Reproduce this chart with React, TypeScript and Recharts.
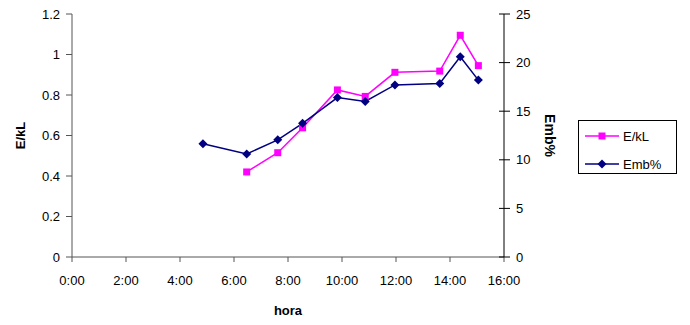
import { LineChart, Line, XAxis, YAxis } from 'recharts';

// hours as decimal (e.g. 6.5 = 6:30)
const horas = [4.85, 6.47, 7.62, 8.54, 9.83, 10.86, 11.96, 13.62, 14.38, 15.05];
const ekl = [null, 0.42, 0.515, 0.638, 0.825, 0.793, 0.912, 0.918, 1.095, 0.945];
const emb = [11.65, 10.6, 12.05, 13.75, 16.4, 16.0, 17.7, 17.85, 20.6, 18.2];

const xTicks = [0, 2, 4, 6, 8, 10, 12, 14, 16];
const leftTicks = [0, 0.2, 0.4, 0.6, 0.8, 1, 1.2];
const rightTicks = [0, 5, 10, 15, 20, 25];

const data = horas.map((h, i) => ({ hora: h, ekl: ekl[i], emb: emb[i] }));

const FONT = '"Liberation Sans", Arial, sans-serif';
const PINK = '#FF00FF';
const NAVY = '#000080';

function fmtHora(v: number) {
  return `${Math.floor(v)}:00`;
}

function SquareDot(props: any) {
  const { cx, cy, key } = props;
  if (cx == null || cy == null) return null;
  return <rect key={key} x={cx - 3.5} y={cy - 3.5} width={7} height={7} fill={PINK} />;
}

function DiamondDot(props: any) {
  const { cx, cy, key } = props;
  if (cx == null || cy == null) return null;
  return (
    <polygon
      key={key}
      points={`${cx},${cy - 4.5} ${cx + 4.5},${cy} ${cx},${cy + 4.5} ${cx - 4.5},${cy}`}
      fill={NAVY}
    />
  );
}

// right axis ticks cross the axis line
function RightTick(props: any) {
  const { x, y, payload } = props;
  const ax = x - 12;
  return (
    <g>
      <line x1={ax - 5} x2={ax + 6} y1={y} y2={y} stroke="#000" />
      <text x={x} y={y} dy="0.35em" textAnchor="start" fontSize={13} fontFamily={FONT} fill="#000">
        {payload.value}
      </text>
    </g>
  );
}

function axisTitle(value: string, dx: number, angle: number, size: number) {
  return (props: any) => {
    const vb = props.viewBox;
    const x = vb.x + dx;
    const y = vb.y + vb.height / 2;
    return (
      <text
        x={x}
        y={y}
        dy="0.35em"
        textAnchor="middle"
        transform={`rotate(${angle}, ${x}, ${y})`}
        fontSize={size}
        fontWeight="bold"
        fontFamily={FONT}
        fill="#000"
      >
        {value}
      </text>
    );
  };
}

function LegendBox() {
  const rows = [
    { name: 'E/kL', color: PINK, square: true },
    { name: 'Emb%', color: NAVY, square: false },
  ];
  return (
    <div
      style={{
        position: 'absolute',
        left: 578,
        top: 120,
        border: '1px solid #000',
        width: 99,
        height: 54,
        boxSizing: 'border-box',
        fontFamily: FONT,
        fontSize: 13,
        background: '#fff',
      }}
    >
      {rows.map((r, i) => (
        <div key={r.name} style={{ position: 'absolute', left: 6, top: 8 + i * 28, height: 14, display: 'flex', alignItems: 'center' }}>
          <svg width={34} height={14}>
            <line x1={0} x2={34} y1={7} y2={7} stroke={r.color} strokeWidth={1.5} />
            {r.square ? (
              <rect x={13.5} y={3.5} width={7} height={7} fill={r.color} />
            ) : (
              <polygon points="17,2.5 21.5,7 17,11.5 12.5,7" fill={r.color} />
            )}
          </svg>
          <span style={{ marginLeft: 4, color: '#000' }}>{r.name}</span>
        </div>
      ))}
    </div>
  );
}

export default function App() {
  return (
    <div style={{ position: 'absolute', left: 0, top: 0, width: 690, height: 325, background: '#fff' }}>
      <LineChart width={690} height={325} data={data} margin={{ top: 14, left: 0, right: 126, bottom: 38 }}>
        <XAxis
          dataKey="hora"
          type="number"
          domain={[0, 16]}
          ticks={xTicks}
          tickFormatter={fmtHora}
          height={30}
          tickSize={5}
          tickMargin={14}
          stroke="#555"
          tick={{ fill: '#000', fontSize: 13, fontFamily: FONT }}
          label={{ value: 'hora', position: 'insideBottom', offset: -38, dy: -10, fill: '#000', fontSize: 13, fontWeight: 'bold', fontFamily: FONT }}
        />
        <YAxis
          yAxisId="left"
          domain={[0, 1.2]}
          ticks={leftTicks}
          width={72}
          tickSize={6}
          tickMargin={6}
          stroke="#555"
          tick={{ fill: '#000', fontSize: 13, fontFamily: FONT }}
          label={{ content: axisTitle('E/kL', 20, -90, 13) }}
        />
        <YAxis
          yAxisId="right"
          orientation="right"
          domain={[0, 25]}
          ticks={rightTicks}
          width={60}
          tickLine={false}
          tickSize={6}
          tickMargin={6}
          stroke="#000"
          tick={<RightTick />}
          label={{ content: axisTitle('Emb%', 46, 90, 14) }}
        />
        <Line
          yAxisId="left"
          dataKey="ekl"
          name="E/kL"
          stroke={PINK}
          strokeWidth={1.5}
          dot={<SquareDot />}
          activeDot={false}
          connectNulls
          isAnimationActive={false}
        />
        <Line
          yAxisId="right"
          dataKey="emb"
          name="Emb%"
          stroke={NAVY}
          strokeWidth={1.5}
          dot={<DiamondDot />}
          activeDot={false}
          isAnimationActive={false}
        />
      </LineChart>
      <LegendBox />
    </div>
  );
}
